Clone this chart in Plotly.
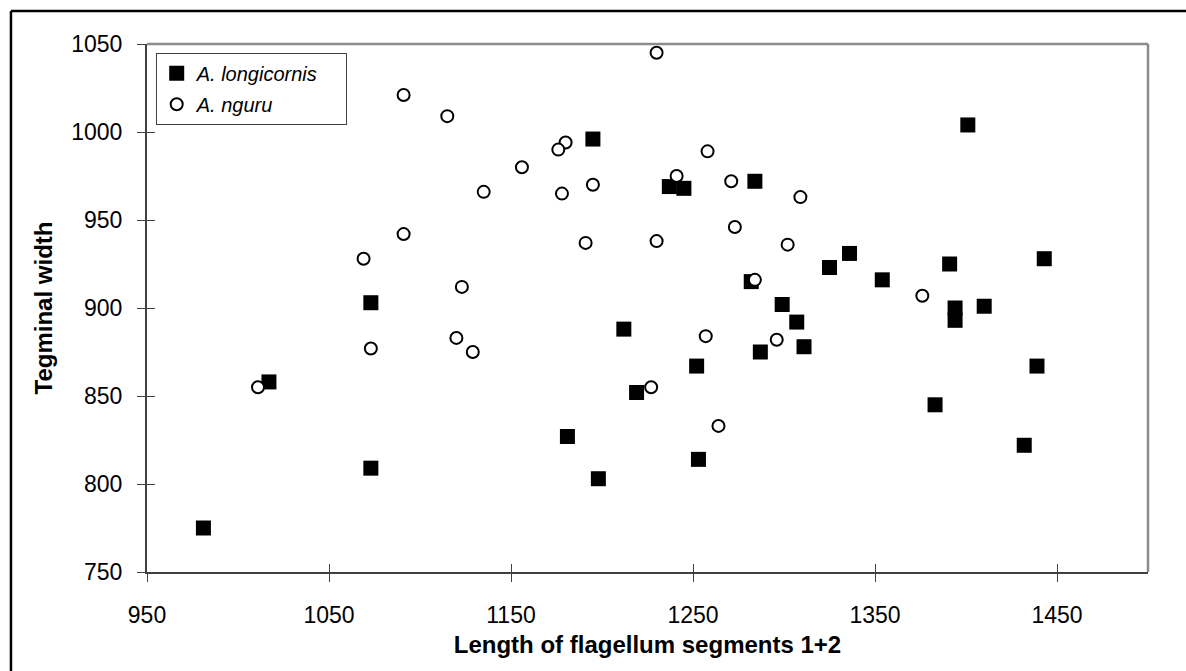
import plotly.graph_objects as go

# A. longicornis (filled squares)
long_x = [981, 1017, 1073, 1073, 1181, 1198, 1195, 1212, 1219, 1237, 1245, 1252, 1253, 1284, 1282, 1287,
          1299, 1307, 1311, 1325, 1336, 1354, 1383, 1391, 1394, 1394, 1410, 1401, 1432, 1439, 1443]
long_y = [775, 858, 903, 809, 827, 803, 996, 888, 852, 969, 968, 867, 814, 972, 915, 875,
          902, 892, 878, 923, 931, 916, 845, 925, 900, 893, 901, 1004, 822, 867, 928]

# A. nguru (open circles)
nguru_x = [1230, 1091, 1115, 1180, 1176, 1156, 1135, 1178, 1195, 1241, 1258, 1271, 1309, 1273, 1230,
           1302, 1091, 1069, 1191, 1123, 1284, 1376, 1073, 1120, 1129, 1257, 1296, 1011, 1227, 1264]
nguru_y = [1045, 1021, 1009, 994, 990, 980, 966, 965, 970, 975, 989, 972, 963, 946, 938,
           936, 942, 928, 937, 912, 916, 907, 877, 883, 875, 884, 882, 855, 855, 833]

x_ticks = [950, 1050, 1150, 1250, 1350, 1450]
y_ticks = [750, 800, 850, 900, 950, 1000, 1050]
x_range = [950, 1500]
y_range = [750, 1050]

FONT = "Liberation Sans, Arial, sans-serif"
AXIS_COL = "#404040"

fig = go.Figure()
fig.add_trace(go.Scatter(
    x=long_x, y=long_y, mode="markers", name="<i>A. longicornis</i>&nbsp;&nbsp;&nbsp;&nbsp;",
    legendgroup="g1",
    marker=dict(symbol="square", size=15, color="black", line=dict(width=0)),
))
fig.add_trace(go.Scatter(
    x=nguru_x, y=nguru_y, mode="markers", name="<i>A. nguru</i>", legendgroup="g2",
    marker=dict(symbol="circle", size=12, color="white", line=dict(width=2, color="black")),
))

fig.update_layout(
    width=1186, height=671,
    margin=dict(l=147, r=38, t=44, b=99),
    paper_bgcolor="white", plot_bgcolor="white",
    font=dict(family=FONT, color="black"),
    showlegend=True,
    legend=dict(
        x=0.0087, y=0.9835, xanchor="left", yanchor="top",
        bgcolor="white", bordercolor=AXIS_COL, borderwidth=1,
        font=dict(family=FONT, size=20, color="black"),
        tracegroupgap=2, traceorder="grouped",
        itemwidth=30,
    ),
    xaxis=dict(
        range=x_range, tickvals=x_ticks, ticktext=[str(v) for v in x_ticks],
        showgrid=False, zeroline=False, showline=True, linecolor=AXIS_COL, linewidth=2,
        ticks="outside", ticklen=8, tickwidth=1, tickcolor=AXIS_COL,
        tickfont=dict(family=FONT, size=23), ticklabelstandoff=13,
        title=dict(text="<b>Length of flagellum segments 1+2</b>", font=dict(family=FONT, size=24), standoff=10),
        layer="above traces",
    ),
    yaxis=dict(
        range=y_range, tickvals=y_ticks, ticktext=[str(v) for v in y_ticks],
        showgrid=False, zeroline=False, showline=True, linecolor=AXIS_COL, linewidth=2,
        ticks="outside", ticklen=8, tickwidth=1, tickcolor=AXIS_COL,
        tickfont=dict(family=FONT, size=23), ticklabelstandoff=10,
        title=dict(text="<b>Tegminal width</b>", font=dict(family=FONT, size=24), standoff=12),
        layer="above traces",
    ),
    xaxis2=dict(
        range=x_range, tickvals=x_ticks, overlaying="x", anchor="y", side="bottom",
        showticklabels=False, showgrid=False, zeroline=False, showline=False,
        ticks="inside", ticklen=8, tickwidth=1, tickcolor=AXIS_COL,
    ),
    yaxis2=dict(
        range=y_range, tickvals=y_ticks, overlaying="y", anchor="x", side="left",
        showticklabels=False, showgrid=False, zeroline=False, showline=False,
        ticks="inside", ticklen=8, tickwidth=1, tickcolor=AXIS_COL,
    ),
    shapes=[
        dict(type="line", xref="paper", yref="paper", x0=0, x1=1, y0=1, y1=1,
             line=dict(color="#8c8c8c", width=2.5), layer="below"),
        dict(type="line", xref="paper", yref="paper", x0=1, x1=1, y0=0, y1=1,
             line=dict(color="#8c8c8c", width=2.5), layer="below"),
        dict(type="line", xref="paper", yref="paper", x0=-0.1359, x1=1.1, y0=1.0625, y1=1.0625,
             line=dict(color="black", width=2.5)),
        dict(type="line", xref="paper", yref="paper", x0=-0.1359, x1=-0.1359, y0=-0.3, y1=1.0625,
             line=dict(color="black", width=2.5)),
    ],
)

fig.add_trace(go.Scatter(x=[x_range[0]], y=[y_range[0]], xaxis="x2", yaxis="y2",
                         mode="markers", marker=dict(opacity=0), showlegend=False, hoverinfo="skip"))

fig.write_html("out.html")
